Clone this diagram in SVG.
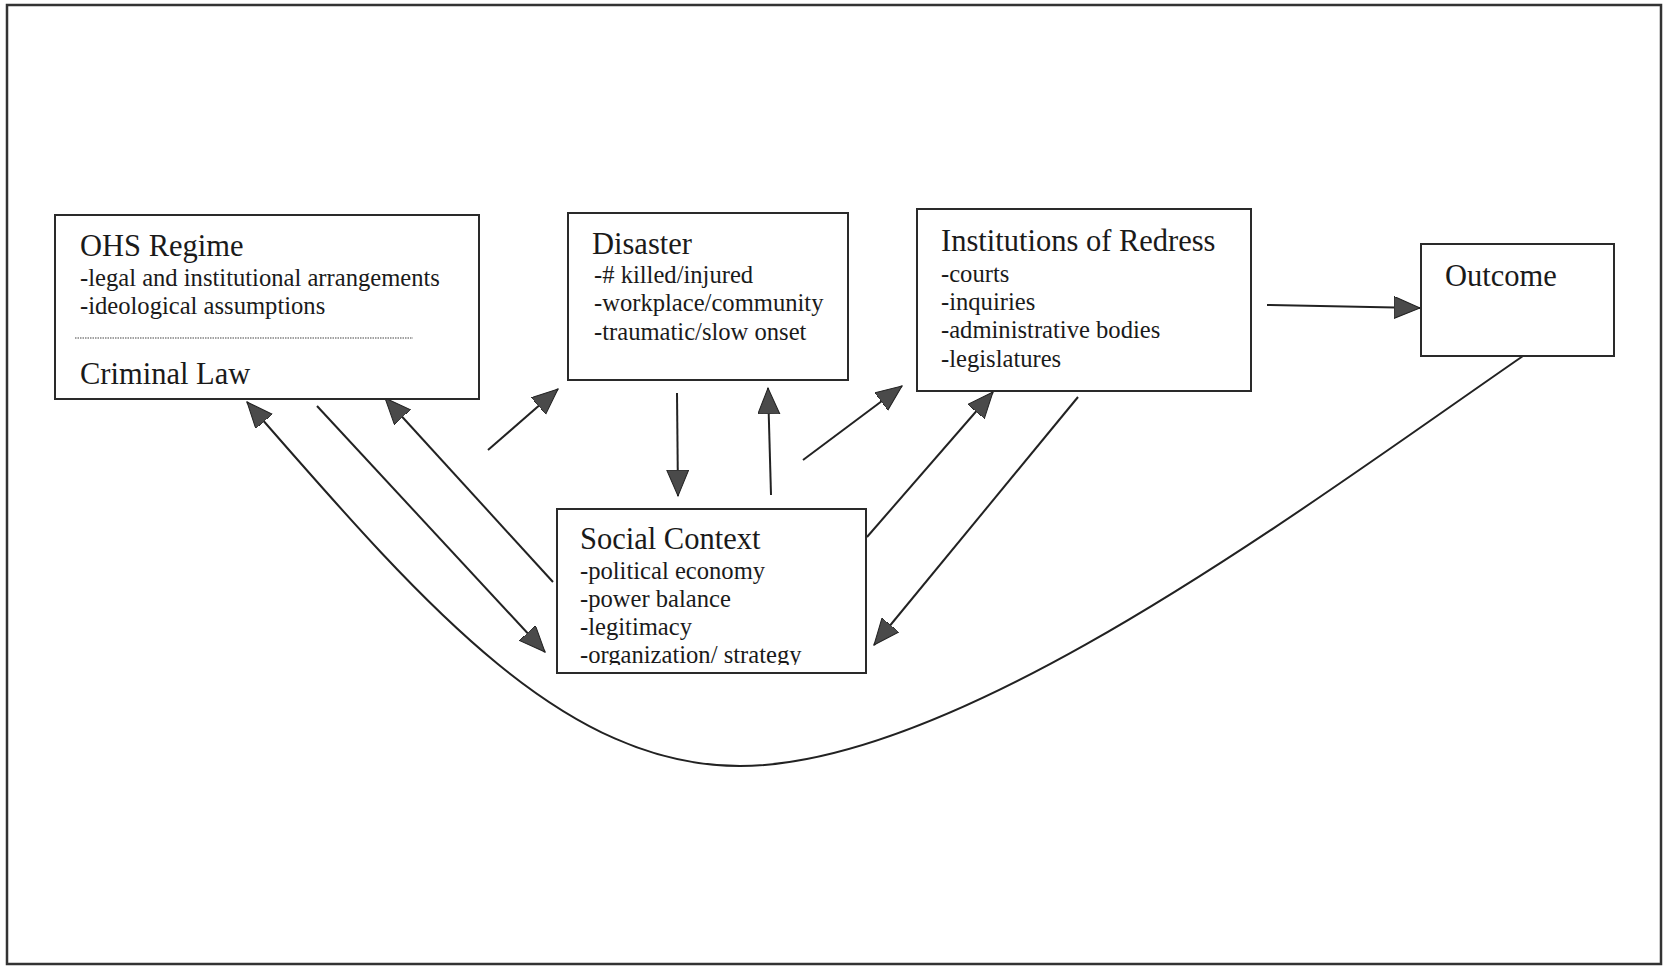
<svg xmlns="http://www.w3.org/2000/svg" width="1665" height="966" viewBox="0 0 1665 966">
  <defs>
    <style>
      .frame { fill: #ffffff; stroke: #333; stroke-width: 2.5; }
      .box { fill: #ffffff; stroke: #2a2a2a; stroke-width: 2; }
      .title { font-family: "Liberation Serif", "Times New Roman", serif; font-size: 30.5px; fill: #1a1a1a; }
      .item { font-family: "Liberation Serif", "Times New Roman", serif; font-size: 24.6px; fill: #1a1a1a; }
      .conn { fill: none; stroke: #222; stroke-width: 2; }
    </style>
    <marker id="ah" markerUnits="userSpaceOnUse" markerWidth="30" markerHeight="24" refX="26" refY="11" orient="auto">
      <path d="M0,0 L26,11 L0,22 Z" fill="#4a4a4a" stroke="#222" stroke-width="1"/>
    </marker>
    <clipPath id="socialClip">
      <rect x="557" y="509" width="309" height="156"/>
    </clipPath>
  </defs>

  <rect x="0" y="0" width="1665" height="966" fill="#ffffff"/>
  <rect class="frame" x="7" y="5" width="1654" height="959"/>

  <g id="connectors">
    <path class="conn" d="M1523,356 C1300,510 960,766 740,766 C560,766 420,600 247,402" marker-end="url(#ah)"/>
    <line class="conn" x1="1267" y1="305" x2="1420" y2="308" marker-end="url(#ah)"/>
    <line class="conn" x1="317" y1="406" x2="545" y2="652" marker-end="url(#ah)"/>
    <line class="conn" x1="553" y1="582" x2="385" y2="398" marker-end="url(#ah)"/>
    <line class="conn" x1="488" y1="450" x2="558" y2="389" marker-end="url(#ah)"/>
    <line class="conn" x1="677" y1="393" x2="678" y2="496" marker-end="url(#ah)"/>
    <line class="conn" x1="771" y1="495" x2="768" y2="388" marker-end="url(#ah)"/>
    <line class="conn" x1="803" y1="460" x2="902" y2="386" marker-end="url(#ah)"/>
    <line class="conn" x1="867" y1="537" x2="993" y2="392" marker-end="url(#ah)"/>
    <line class="conn" x1="1078" y1="397" x2="874" y2="645" marker-end="url(#ah)"/>
  </g>

  <g id="ohs-regime">
    <rect class="box" x="55" y="215" width="424" height="184"/>
    <text class="title" x="80" y="256">OHS Regime</text>
    <text class="item" x="80" y="286">-legal and institutional arrangements</text>
    <text class="item" x="80" y="314">-ideological assumptions</text>
    <line x1="75" y1="338" x2="413" y2="338" stroke="#444" stroke-width="1.2" stroke-dasharray="1.5 1"/>
    <text class="title" x="80" y="384">Criminal Law</text>
  </g>

  <g id="disaster">
    <rect class="box" x="568" y="213" width="280" height="167"/>
    <text class="title" x="592" y="254">Disaster</text>
    <text class="item" x="594" y="283">-# killed/injured</text>
    <text class="item" x="594" y="311">-workplace/community</text>
    <text class="item" x="594" y="340">-traumatic/slow onset</text>
  </g>

  <g id="institutions-of-redress">
    <rect class="box" x="917" y="209" width="334" height="182"/>
    <text class="title" x="941" y="251">Institutions of Redress</text>
    <text class="item" x="941" y="282">-courts</text>
    <text class="item" x="941" y="310">-inquiries</text>
    <text class="item" x="941" y="338">-administrative bodies</text>
    <text class="item" x="941" y="367">-legislatures</text>
  </g>

  <g id="outcome">
    <rect class="box" x="1421" y="244" width="193" height="112"/>
    <text class="title" x="1445" y="286">Outcome</text>
  </g>

  <g id="social-context">
    <rect class="box" x="557" y="509" width="309" height="164"/>
    <text class="title" x="580" y="549">Social Context</text>
    <text class="item" x="580" y="579">-political economy</text>
    <text class="item" x="580" y="607">-power balance</text>
    <text class="item" x="580" y="635">-legitimacy</text>
    <text class="item" x="580" y="663" clip-path="url(#socialClip)">-organization/ strategy</text>
  </g>
</svg>
